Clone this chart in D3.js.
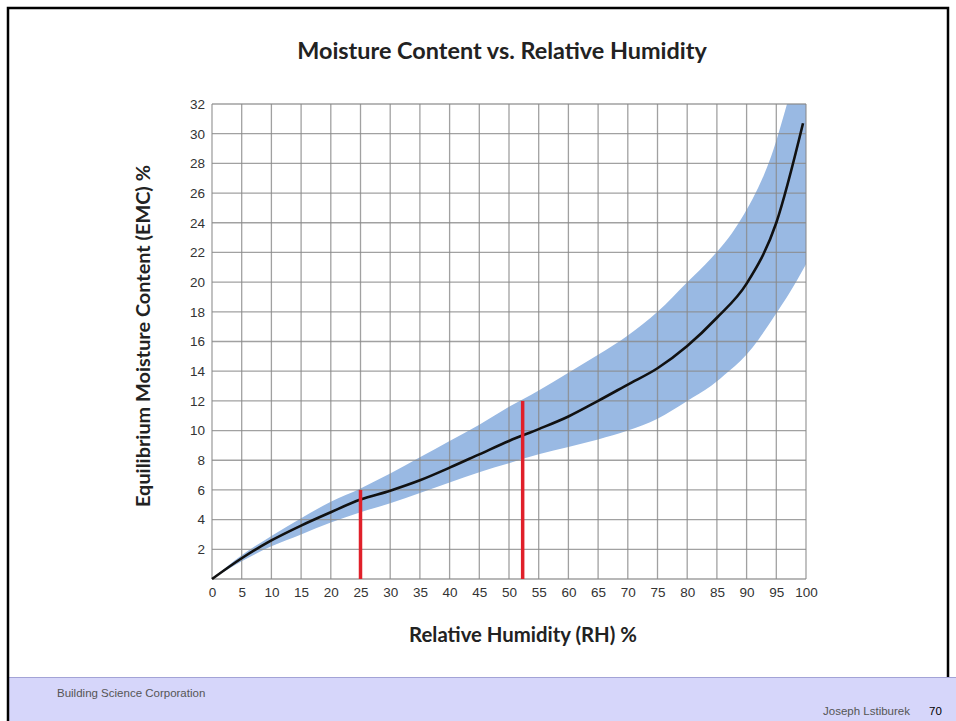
<!DOCTYPE html>
<html><head><meta charset="utf-8">
<script src="https://cdn.jsdelivr.net/npm/d3@7/dist/d3.min.js"></script>
<style>html,body{margin:0;padding:0;background:#fff;}svg{display:block;}</style>
</head><body>
<script>
// ---- data ----
const title = "Moisture Content vs. Relative Humidity";
const xLabel = "Relative Humidity (RH) %";
const yLabel = "Equilibrium Moisture Content (EMC) %";
const footerLeft = "Building Science Corporation";
const footerRight = "Joseph Lstiburek";
const pageNum = "70";

const xTicks = [0,5,10,15,20,25,30,35,40,45,50,55,60,65,70,75,80,85,90,95,100];
const yTicks = [2,4,6,8,10,12,14,16,18,20,22,24,26,28,30,32];

// average EMC curve
const curveRH  = [0,5,10,15,20,25,30,35,40,45,50,55,60,65,70,75,80,85,90,95,99.5];
const curveEMC = [0,1.4,2.6,3.6,4.5,5.35,5.95,6.65,7.5,8.4,9.3,10.1,10.95,12.0,13.1,14.2,15.7,17.6,19.9,24.0,30.7];

// range band
const bandRH    = [0,5,10,15,20,25,30,35,40,45,50,55,60,65,70,75,80,84,87,89,91,93,94.5,95.8,96.8,100];
const bandUpper = [0,1.6,2.9,4.1,5.2,6.1,7.1,8.2,9.3,10.4,11.6,12.7,13.9,15.1,16.4,18.0,20.0,21.6,23.0,24.2,25.6,27.3,28.9,30.6,32,37];
const bandLower = [0,1.2,2.2,3.0,3.8,4.5,5.1,5.8,6.5,7.2,7.8,8.4,8.9,9.4,10.0,10.8,12.0,13.0,14.0,14.7,15.6,16.7,17.6,18.4,19.0,21.2];

// red marker lines
const markerRH  = [25,52.3];
const markerEMC = [6,12];

// ---- drawing ----
const W = 956, H = 721;
const svg = d3.select("body").append("svg").attr("width", W).attr("height", H);

const x = d3.scaleLinear().domain([0,100]).range([212,806]);
const y = d3.scaleLinear().domain([0,32]).range([579,104]);

svg.append("rect").attr("x",0).attr("y",0).attr("width",W).attr("height",H).attr("fill","#fff");
// footer band
svg.append("rect").attr("x",8).attr("y",677).attr("width",W-8).attr("height",H-677).attr("fill","#d6d6fa");
svg.append("line").attr("x1",8).attr("x2",W).attr("y1",677.5).attr("y2",677.5).attr("stroke","#a3a3d6").attr("stroke-width",1);
// border
svg.append("path").attr("d",`M8,${H} L8,8 L948,8 L948,677`).attr("fill","none").attr("stroke","#000").attr("stroke-width",2.5);

svg.append("text").attr("x",57).attr("y",697).attr("font-family","Liberation Sans, Arial, sans-serif")
  .attr("font-size",11.5).attr("fill","#555").text(footerLeft);
svg.append("text").attr("x",910).attr("y",715).attr("text-anchor","end").attr("font-family","Liberation Sans, Arial, sans-serif")
  .attr("font-size",11.5).attr("fill","#555").text(footerRight);
svg.append("text").attr("x",929).attr("y",715).attr("font-family","Liberation Sans, Arial, sans-serif")
  .attr("font-size",11.5).attr("fill","#000").text(pageNum);

// clip
svg.append("clipPath").attr("id","plotclip").append("rect")
  .attr("x",x(0)).attr("y",y(32)).attr("width",x(100)-x(0)).attr("height",y(0)-y(32));

// band
const band = bandRH.map((r,i)=>({r, lo:bandLower[i], hi:bandUpper[i]}));
svg.append("path").attr("clip-path","url(#plotclip)")
  .attr("d", d3.area().x(d=>x(d.r)).y0(d=>y(d.lo)).y1(d=>y(d.hi)).curve(d3.curveMonotoneX)(band))
  .attr("fill","#99b9e3");

// grid
const grid = svg.append("g").attr("stroke","#8a8a8a").attr("stroke-opacity",0.8).attr("stroke-width",1.3);
grid.selectAll("line.v").data(xTicks).join("line")
  .attr("x1",d=>x(d)).attr("x2",d=>x(d)).attr("y1",y(0)).attr("y2",y(32));
grid.selectAll("line.h").data([0].concat(yTicks)).join("line")
  .attr("x1",x(0)).attr("x2",x(100)).attr("y1",d=>y(d)).attr("y2",d=>y(d));

// axis labels via d3 axes
const xAxis = svg.append("g").attr("transform",`translate(0,${y(0)})`)
  .call(d3.axisBottom(x).tickValues(xTicks).tickSize(0).tickPadding(8).tickFormat(d3.format("d")));
const yAxis = svg.append("g").attr("transform",`translate(${x(0)},0)`)
  .call(d3.axisLeft(y).tickValues(yTicks).tickSize(0).tickPadding(7).tickFormat(d3.format("d")));
[xAxis,yAxis].forEach(a=>{
  a.select(".domain").remove();
  a.selectAll("text").attr("font-family","Liberation Sans, Arial, sans-serif").attr("font-size",13.5).attr("fill","#333");
});

// curve
const pts = curveRH.map((r,i)=>({r, v:curveEMC[i]}));
svg.append("path").attr("d", d3.line().x(d=>x(d.r)).y(d=>y(d.v)).curve(d3.curveMonotoneX)(pts))
  .attr("fill","none").attr("stroke","#111").attr("stroke-width",2.6);

// red lines
svg.selectAll("line.marker").data(markerRH).join("line")
  .attr("x1",d=>x(d)).attr("x2",d=>x(d)).attr("y1",y(0)).attr("y2",(d,i)=>y(markerEMC[i]))
  .attr("stroke","#e0202a").attr("stroke-width",3.5);

// titles
function fitText(sel, target){
  const w = sel.node().getComputedTextLength();
  const fs = parseFloat(sel.attr("font-size"));
  sel.attr("font-size", fs*target/w);
}
const font = "Lato, 'Open Sans', sans-serif";
const t = svg.append("text").attr("x",502).attr("y",59).attr("text-anchor","middle")
  .attr("font-family",font).attr("font-weight",700).attr("font-size",20).attr("fill","#222").text(title);
fitText(t, 410);
const xl = svg.append("text").attr("x",523).attr("y",642).attr("text-anchor","middle")
  .attr("font-family",font).attr("font-weight",700).attr("font-size",18).attr("fill","#222").text(xLabel);
fitText(xl, 228);
const yl = svg.append("text").attr("transform","translate(150,336) rotate(-90)").attr("text-anchor","middle")
  .attr("font-family",font).attr("font-weight",700).attr("font-size",18).attr("fill","#222").text(yLabel);
fitText(yl, 342);
</script>
</body></html>
